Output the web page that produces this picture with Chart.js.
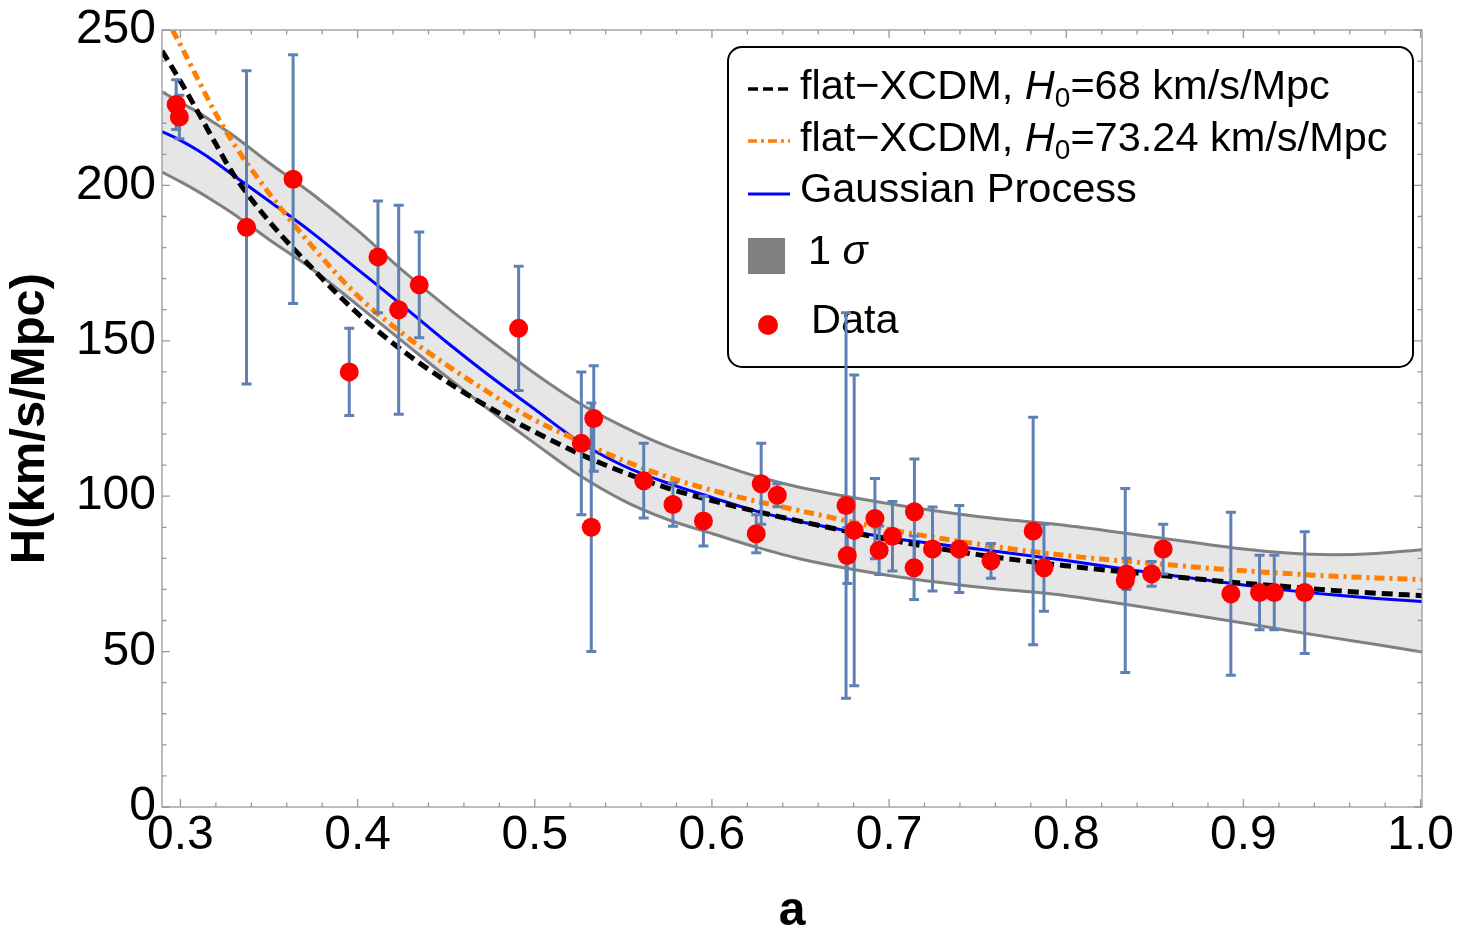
<!DOCTYPE html>
<html lang="en">
<head>
<meta charset="UTF-8" />
<title>H(a)</title>
<script src="https://cdn.jsdelivr.net/npm/chart.js@4.4.0/dist/chart.umd.min.js"></script>
<style>
  html, body { margin: 0; padding: 0; background: #fff; }
  #wrap { width: 1459px; height: 944px; }
</style>
</head>
<body>
<div id="wrap"><canvas id="hz" width="1459" height="944"></canvas></div>
<script>
// measured points: scale factor a, H in km/s/Mpc, 1 sigma error
const aData = [0.2976, 0.2994, 0.3373, 0.3636, 0.3953, 0.4115, 0.4232, 0.4348, 0.4909, 0.5263,
  0.5319, 0.5333, 0.5615, 0.5780, 0.5952, 0.6250, 0.6278, 0.6369, 0.6757, 0.6764,
  0.6803, 0.6920, 0.6944, 0.7019, 0.7141, 0.7143, 0.7245, 0.7396, 0.7575, 0.7813,
  0.7874, 0.8333, 0.8340, 0.8482, 0.8547, 0.8929, 0.9091, 0.9174, 0.9346];
const hData = [226, 222, 186.5, 202, 140, 177, 160, 168, 154, 117,
  90, 125, 105, 97.3, 92, 87.9, 104, 100.3, 97, 80.9,
  89, 92.8, 82.6, 87.1, 77, 95, 83, 83, 79.2, 88.8,
  77, 72.9, 75, 75, 83, 68.6, 69, 69, 69];
const errData = [8, 7, 50.4, 40, 14, 18, 33.6, 17, 20, 23,
  40, 17, 12, 7, 8, 6.1, 13, 3.7, 62, 9,
  50, 12.9, 7.8, 11.2, 10.2, 17, 13.5, 14, 5.6, 36.6,
  14, 29.6, 5, 4, 8, 26.2, 12, 12, 19.6];

// curves
const aCurve = [0.2896, 0.30, 0.31, 0.32, 0.33, 0.35, 0.375, 0.40, 0.425, 0.45, 0.475, 0.50, 0.525,
  0.55, 0.575, 0.60, 0.625, 0.65, 0.70, 0.75, 0.80, 0.85, 0.90, 0.925, 0.95, 0.975, 1.0008];
const hGP = [217.3, 214.5, 211.2, 207.4, 203.2, 195, 184.5, 173, 161.5, 149.7, 138.5, 128, 117.6,
  109.8, 104.2, 99.6, 95.2, 91.8, 86.6, 83, 79.3, 75.2, 71.4, 69.7, 68.3, 67.1, 66.1];
const hUpper = [230.1, 226.7, 223.5, 219.8, 216, 207.3, 197, 185.5, 172.8, 161, 150, 139.5, 130,
  122.4, 116, 111, 106.4, 102.8, 97.6, 93.5, 90.6, 86.8, 83, 81.7, 81.2, 81.6, 82.8];
const hLower = [204.3, 201.2, 198, 194.5, 190.8, 182.6, 172.8, 161.5, 150, 138.5, 127.5, 117, 106.8,
  98.6, 92.5, 88, 83.6, 79.8, 74.5, 70.8, 68, 63.7, 59.2, 56.8, 54.5, 52.3, 49.9];
const hXcdm68 = [243.3, 233.5, 223.5, 213.3, 203.5, 188.5, 173, 158.8, 147, 137, 128.3, 120.7, 113.7,
  107.7, 102.6, 98.6, 95.1, 91.9, 86, 81.2, 77.6, 74.7, 72, 70.9, 69.7, 68.8, 68];
const aXcdm73 = [0.2955, 0.30, 0.31, 0.32, 0.33, 0.35, 0.375, 0.40, 0.425, 0.45, 0.475, 0.50, 0.525,
  0.55, 0.575, 0.60, 0.625, 0.65, 0.70, 0.75, 0.80, 0.85, 0.90, 0.925, 0.95, 0.975, 1.0008];
const hXcdm73 = [250, 245.2, 234, 223, 213.5, 197.5, 180, 164.5, 152.5, 142.3, 133, 124.5, 117.8,
  111.5, 106.2, 101.9, 98.4, 95.3, 89.3, 84.6, 80.9, 78.3, 76, 75.1, 74.3, 73.7, 73.2];

const xTicks = [0.3, 0.4, 0.5, 0.6, 0.7, 0.8, 0.9, 1.0];
const yTicks = [0, 50, 100, 150, 200, 250];

const legendLabels = [
  [{ t: "flat\u2212XCDM, " }, { t: "H", it: true }, { t: "0", sub: true }, { t: "=68 km/s/Mpc" }],
  [{ t: "flat\u2212XCDM, " }, { t: "H", it: true }, { t: "0", sub: true }, { t: "=73.24 km/s/Mpc" }],
  [{ t: "Gaussian Process" }],
  [{ t: "1 " }, { t: "\u03c3", it: true }],
  [{ t: "Data" }]
];

const FONT = "'Liberation Sans', Arial, Helvetica, sans-serif";

function pts(xs, ys) {
  return xs.map(function (v, i) { return { x: v, y: ys[i] }; });
}

// frame with inward ticks on all four sides
const frameTicks = {
  id: "frameTicks",
  afterDatasetsDraw(chart) {
    const { ctx, chartArea, scales } = chart;
    const { left, right, top, bottom } = chartArea;
    ctx.save();
    ctx.strokeStyle = "#999";
    ctx.lineWidth = 1.3;
    ctx.strokeRect(left, top, right - left, bottom - top);
    ctx.beginPath();
    for (let i = 0; i <= 35; i++) {
      const v = 0.3 + i * 0.02;
      if (v > scales.x.max + 1e-9) break;
      const px = scales.x.getPixelForValue(v);
      const len = i % 5 === 0 ? 8 : 4.5;
      ctx.moveTo(px, bottom); ctx.lineTo(px, bottom - len);
      ctx.moveTo(px, top); ctx.lineTo(px, top + len);
    }
    for (let j = 0; j <= 25; j++) {
      const py = scales.y.getPixelForValue(j * 10);
      const len = j % 5 === 0 ? 8 : 4.5;
      ctx.moveTo(left, py); ctx.lineTo(left + len, py);
      ctx.moveTo(right, py); ctx.lineTo(right - len, py);
    }
    ctx.stroke();
    ctx.restore();
  }
};

// error bars, drawn just under the red points
const errorBars = {
  id: "errorBars",
  beforeDatasetDraw(chart, args) {
    if (args.index !== 0) return;
    const { ctx, scales } = chart;
    ctx.save();
    ctx.strokeStyle = "#5E81B5";
    ctx.lineWidth = 3;
    ctx.beginPath();
    for (let i = 0; i < aData.length; i++) {
      const px = scales.x.getPixelForValue(aData[i]);
      const y1 = scales.y.getPixelForValue(hData[i] - errData[i]);
      const y2 = scales.y.getPixelForValue(hData[i] + errData[i]);
      ctx.moveTo(px, y1); ctx.lineTo(px, y2);
      ctx.moveTo(px - 5, y1); ctx.lineTo(px + 5, y1);
      ctx.moveTo(px - 5, y2); ctx.lineTo(px + 5, y2);
    }
    ctx.stroke();
    ctx.restore();
  }
};

// boxed legend with italic H and subscript, sits under the data marks
const boxLegend = {
  id: "boxLegend",
  beforeDatasetsDraw(chart) {
    const ctx = chart.ctx;
    ctx.save();
    const bx = 728, by = 47, bw = 685, bh = 320, r = 14;
    ctx.beginPath();
    ctx.moveTo(bx + r, by);
    ctx.arcTo(bx + bw, by, bx + bw, by + bh, r);
    ctx.arcTo(bx + bw, by + bh, bx, by + bh, r);
    ctx.arcTo(bx, by + bh, bx, by, r);
    ctx.arcTo(bx, by, bx + bw, by, r);
    ctx.closePath();
    ctx.fillStyle = "#fff";
    ctx.fill();
    ctx.lineWidth = 2;
    ctx.strokeStyle = "#000";
    ctx.stroke();

    function sample(y, color, dash, w) {
      ctx.beginPath();
      ctx.setLineDash(dash);
      ctx.strokeStyle = color;
      ctx.lineWidth = w;
      ctx.moveTo(748, y);
      ctx.lineTo(790, y);
      ctx.stroke();
      ctx.setLineDash([]);
    }
    sample(89, "#000", [10, 5], 3.5);
    sample(141, "#ff8000", [9, 4, 3, 4], 3.5);
    sample(194, "#0000ff", [], 3);
    ctx.fillStyle = "#808080";
    ctx.fillRect(748, 238, 37, 36);
    ctx.fillStyle = "#ff0000";
    ctx.beginPath();
    ctx.arc(768, 325, 10, 0, Math.PI * 2);
    ctx.fill();

    function rich(parts, x, y) {
      let cx = x;
      ctx.fillStyle = "#000";
      ctx.textBaseline = "alphabetic";
      ctx.textAlign = "left";
      parts.forEach(function (p) {
        const size = p.sub ? 28 : 41.5;
        ctx.font = (p.it ? "italic " : "") + size + "px " + FONT;
        ctx.fillText(p.t, cx, y + (p.sub ? 8 : 0));
        cx += ctx.measureText(p.t).width;
      });
    }
    rich(legendLabels[0], 800, 99);
    rich(legendLabels[1], 800, 151);
    rich(legendLabels[2], 800, 202);
    rich(legendLabels[3], 808, 264);
    rich(legendLabels[4], 811, 333);
    ctx.restore();
  }
};

new Chart(document.getElementById("hz"), {
  type: "line",
  data: {
    datasets: [
      {
        label: "Data",
        data: pts(aData, hData),
        showLine: false,
        pointRadius: 9.5,
        pointHoverRadius: 9.5,
        pointBackgroundColor: "#ff0000",
        pointBorderWidth: 0,
        order: 0
      },
      {
        label: "flat-XCDM, H0=68",
        data: pts(aCurve, hXcdm68),
        borderColor: "#000",
        borderWidth: 5,
        borderDash: [11, 6],
        pointRadius: 0,
        cubicInterpolationMode: "monotone",
        fill: false,
        order: 1
      },
      {
        label: "flat-XCDM, H0=73.24",
        data: pts(aXcdm73, hXcdm73),
        borderColor: "#ff8000",
        borderWidth: 5,
        borderDash: [10, 5, 3, 5],
        pointRadius: 0,
        cubicInterpolationMode: "monotone",
        fill: false,
        order: 2
      },
      {
        label: "Gaussian Process",
        data: pts(aCurve, hGP),
        borderColor: "#0000ff",
        borderWidth: 3,
        pointRadius: 0,
        cubicInterpolationMode: "monotone",
        fill: false,
        order: 3
      },
      {
        label: "upper",
        data: pts(aCurve, hUpper),
        borderColor: "#808080",
        borderWidth: 3,
        pointRadius: 0,
        cubicInterpolationMode: "monotone",
        fill: 5,
        backgroundColor: "rgb(230,230,230)",
        order: 6
      },
      {
        label: "lower",
        data: pts(aCurve, hLower),
        borderColor: "#808080",
        borderWidth: 3,
        pointRadius: 0,
        cubicInterpolationMode: "monotone",
        fill: false,
        order: 5
      }
    ]
  },
  options: {
    responsive: false,
    animation: false,
    devicePixelRatio: 1,
    layout: { padding: { top: 27, right: 36, left: 0, bottom: 0 } },
    plugins: { legend: { display: false }, tooltip: { enabled: false } },
    scales: {
      x: {
        type: "linear",
        min: 0.2896,
        max: 1.0008,
        grid: { display: false, drawTicks: false },
        border: { display: false },
        afterBuildTicks: function (s) { s.ticks = xTicks.map(function (v) { return { value: v }; }); },
        afterFit: function (s) { s.height = 137; },
        ticks: {
          padding: 5,
          color: "#000",
          autoSkip: false,
          maxRotation: 0,
          font: { family: FONT, size: 48, lineHeight: 1 },
          callback: function (v) { return v.toFixed(1); }
        },
        title: {
          display: true,
          text: "a",
          color: "#000",
          font: { family: FONT, size: 48, weight: "bold" },
          padding: { top: 0, bottom: 3 }
        }
      },
      y: {
        type: "linear",
        min: 0,
        max: 250,
        grid: { display: false, drawTicks: false },
        border: { display: false },
        afterBuildTicks: function (s) { s.ticks = yTicks.map(function (v) { return { value: v }; }); },
        afterFit: function (s) { s.width = 162; },
        ticks: {
          padding: 6,
          color: "#000",
          font: { family: FONT, size: 48, lineHeight: 1 },
          callback: function (v) { return String(v); }
        },
        title: {
          display: true,
          text: "H(km/s/Mpc)",
          color: "#000",
          font: { family: FONT, size: 49, weight: "bold" },
          padding: { top: 1, bottom: 0 }
        }
      }
    }
  },
  plugins: [boxLegend, frameTicks, errorBars]
});
</script>
</body>
</html>
